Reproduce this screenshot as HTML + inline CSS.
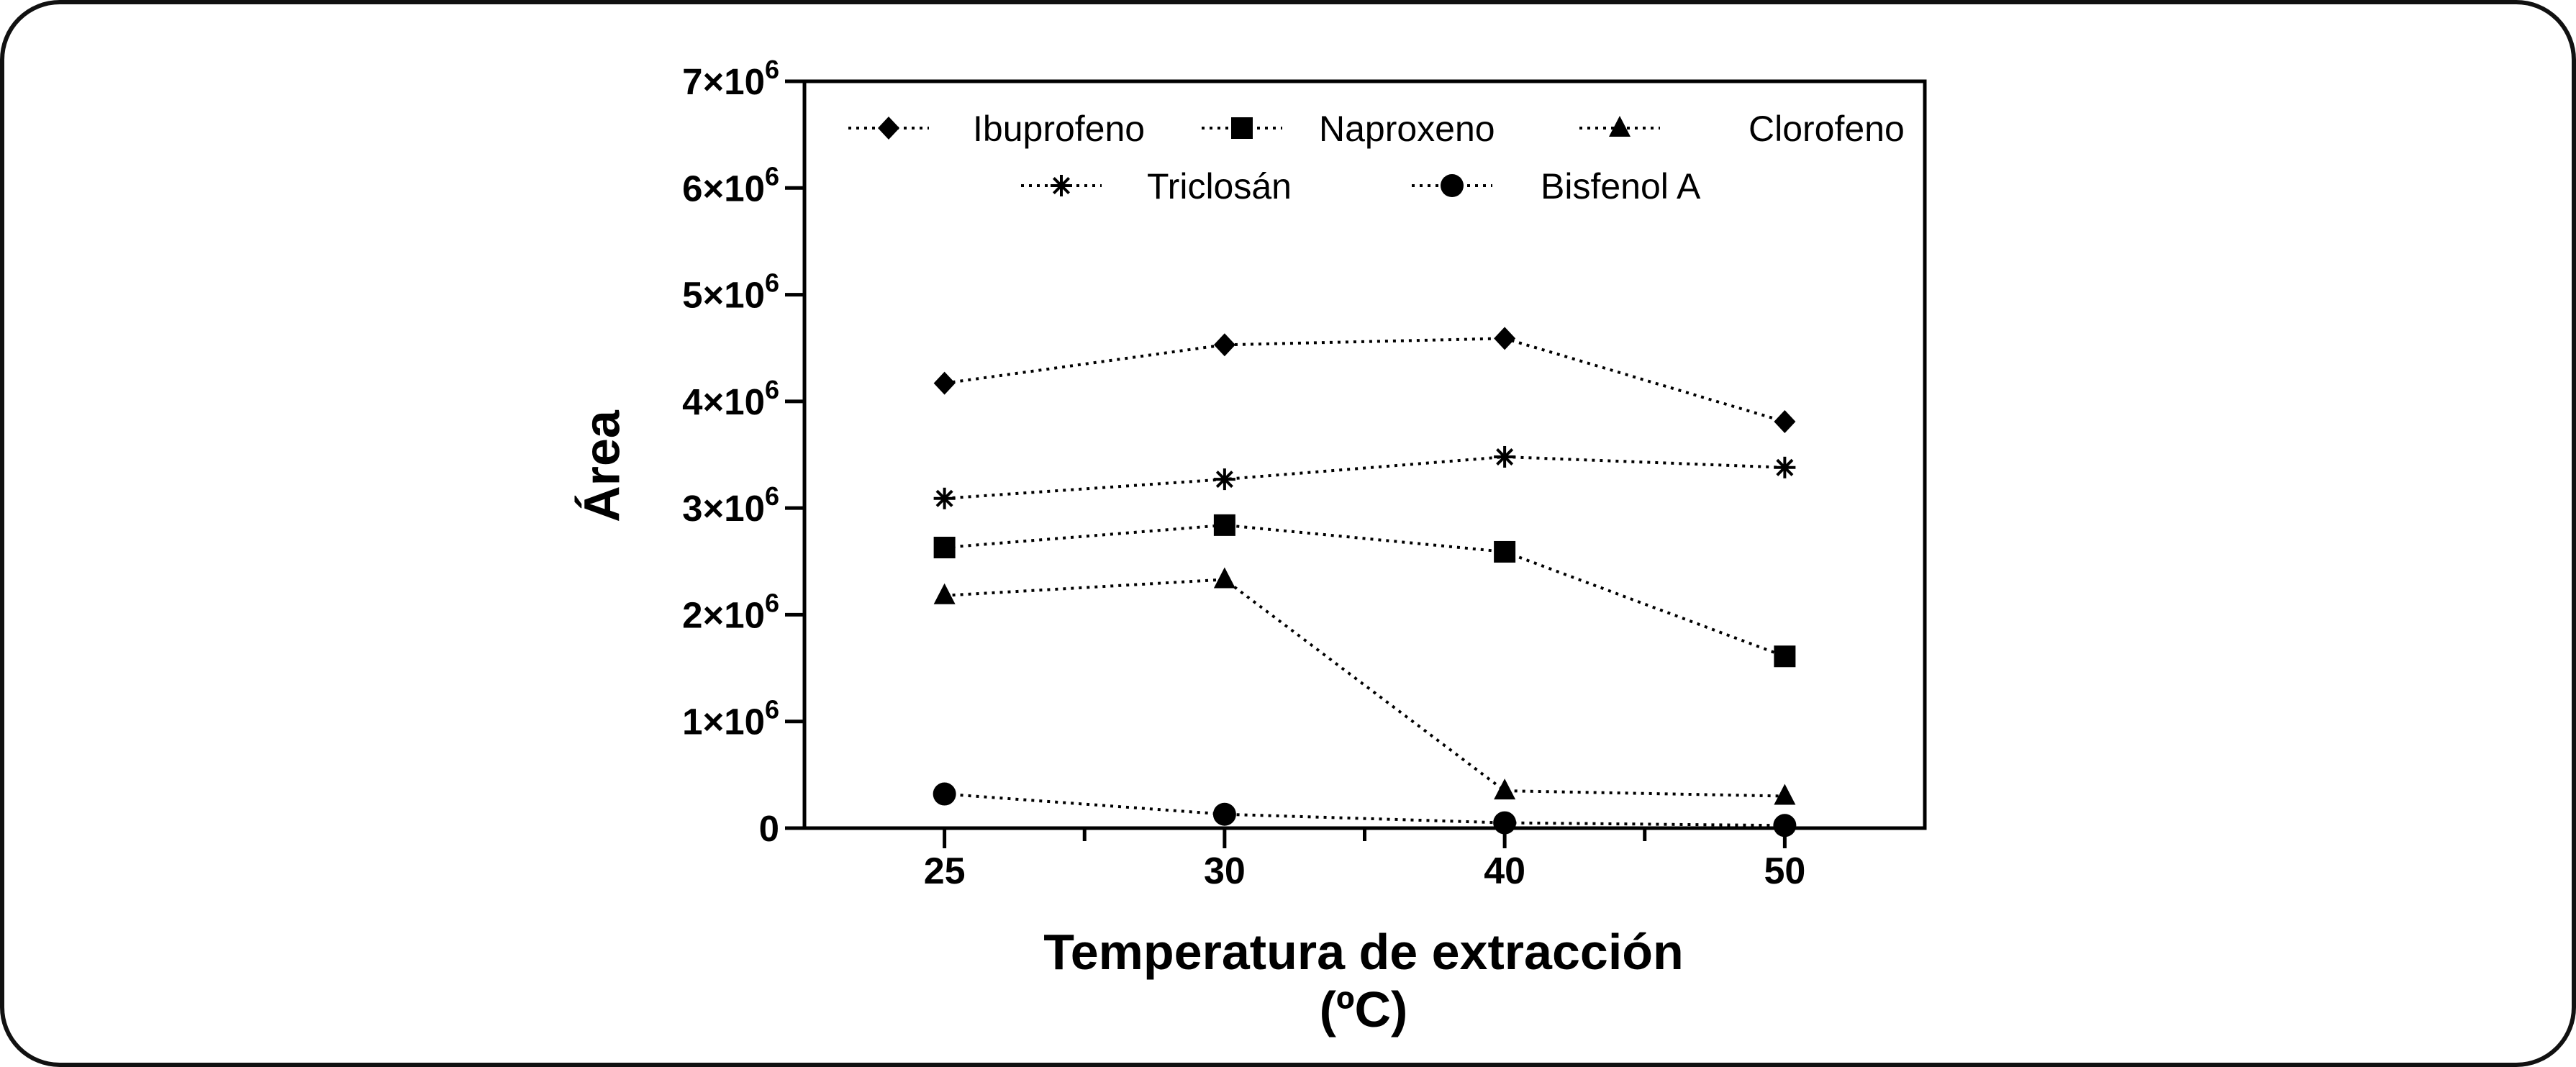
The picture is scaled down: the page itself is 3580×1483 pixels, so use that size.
<!DOCTYPE html>
<html><head><meta charset="utf-8"><style>
html,body{margin:0;padding:0;background:#fff;}
svg{display:block;font-family:"Liberation Sans",Arial,sans-serif;}
</style></head><body>
<svg id="chart" width="3580" height="1483" viewBox="0 0 3580 1483" xmlns="http://www.w3.org/2000/svg">
<rect x="3" y="3" width="3574" height="1477" rx="80" ry="80" fill="#fff" stroke="#111" stroke-width="6"/>
<g id="axes"></g>
<g id="series"></g>
<g id="legend"></g>
<text x="842" y="648" transform="rotate(-90 842 648)" text-anchor="middle" dominant-baseline="middle" font-size="70" font-weight="bold">Área</text>
<text x="1895" y="1347" text-anchor="middle" font-size="70" font-weight="bold">Temperatura de extracción</text>
<text x="1895" y="1427" text-anchor="middle" font-size="70" font-weight="bold">(ºC)</text>
</svg>
<script>
const categories = ["25","30","40","50"];
const yTicks = [0,1,2,3,4,5,6,7];
const seriesNames = ["Ibuprofeno","Naproxeno","Clorofeno","Triclosán","Bisfenol A"];
const ibuprofeno = [4.17,4.53,4.59,3.81];
const naproxeno = [2.63,2.84,2.59,1.61];
const clorofeno = [2.18,2.33,0.35,0.30];
const triclosan = [3.09,3.27,3.48,3.38];
const bisfenol = [0.32,0.13,0.05,0.025];

const NS="http://www.w3.org/2000/svg";
const L=1118,R=2675,T=113,B=1151,YMAX=7;
const xScale=i=>L+(R-L)/categories.length*(i+0.5);
const yScale=v=>B-(B-T)*v/YMAX;
function mk(tag,attrs,parent){const e=document.createElementNS(NS,tag);for(const k in attrs)e.setAttribute(k,attrs[k]);parent.appendChild(e);return e;}
const axes=document.getElementById('axes');
const ax=mk('path',{d:`M${L} ${T} L${R} ${T} L${R} ${B} L${L} ${B} Z`,fill:'none',stroke:'#000','stroke-width':5},axes);


yTicks.forEach(v=>{
  const y=yScale(v);
  const t=mk('line',{x1:L-27,x2:L,y1:y,y2:y,stroke:'#000','stroke-width':5},axes);
  
  
  const tx=mk('text',{x:1083,y:y+18,'text-anchor':'end','font-size':51,'font-weight':'bold'},axes);
  
  
  if(v===0){tx.textContent='0';}
  else{tx.textContent=v+'×10';const s=mk('tspan',{dy:-22,'font-size':36},tx);s.textContent='6';}
});
categories.forEach((c,i)=>{
  const x=xScale(i);
  const t=mk('line',{x1:x,x2:x,y1:B,y2:B+28,stroke:'#000','stroke-width':5},axes);
  
  
  const tx=mk('text',{x:x,y:B+77,'text-anchor':'middle','font-size':52,'font-weight':'bold'},axes);
  tx.textContent=c;
  
  
  if(i<categories.length-1){
    const mx=(x+xScale(i+1))/2;
    const m=mk('line',{x1:mx,x2:mx,y1:B,y2:B+18,stroke:'#000','stroke-width':5},axes);
    
    
  }
});
function marker(type,x,y,p){
  let e;
  if(type==='diamond')e=mk('path',{d:`M${x} ${y-16} L${x+15} ${y} L${x} ${y+16} L${x-15} ${y} Z`,fill:'#000'},p);
  else if(type==='square')e=mk('rect',{x:x-15,y:y-15,width:30,height:30,fill:'#000'},p);
  else if(type==='triangle')e=mk('path',{d:`M${x} ${y-17} L${x+15} ${y+12} L${x-15} ${y+12} Z`,fill:'#000'},p);
  else if(type==='circle')e=mk('circle',{cx:x,cy:y,r:16,fill:'#000'},p);
  else{e=mk('g',{stroke:'#000','stroke-width':4},p);
    for(let a=0;a<4;a++){const ang=a*Math.PI/4;mk('line',{x1:x-15*Math.cos(ang),y1:y-15*Math.sin(ang),x2:x+15*Math.cos(ang),y2:y+15*Math.sin(ang)},e);}}
  return e;
}
const sData=[ibuprofeno,naproxeno,clorofeno,triclosan,bisfenol];
const mTypes=['diamond','square','triangle','star','circle'];
const sKeys=['ibuprofeno','naproxeno','clorofeno','triclosan','bisfenol-a'];
const sg=document.getElementById('series');
sData.forEach((arr,k)=>{
  const g=mk('g',{},sg);
  
  
  const pts=arr.map((v,i)=>xScale(i)+','+yScale(v)).join(' ');
  const pl=mk('polyline',{points:pts,fill:'none',stroke:'#000','stroke-width':4,'stroke-dasharray':'4 7'},g);
  
  
  arr.forEach((v,i)=>{
    const m=marker(mTypes[k],xScale(i),yScale(v),g);
    
    
  });
});
const lg=document.getElementById('legend');
const legPos=[[1235,178,1352],[1726,178,1833],[2251,178,2430],[1475,258,1594],[2018,258,2141]];
legPos.forEach((p,k)=>{
  const g=mk('g',{},lg);
  
  
  mk('line',{x1:p[0]-56,x2:p[0]+56,y1:p[1],y2:p[1],stroke:'#000','stroke-width':4,'stroke-dasharray':'4 7'},g);
  marker(mTypes[k],p[0],p[1],g);
  const t=mk('text',{x:p[2],y:p[1]+18,'font-size':50},g);
  t.textContent=seriesNames[k];
});
</script>
</body></html>
